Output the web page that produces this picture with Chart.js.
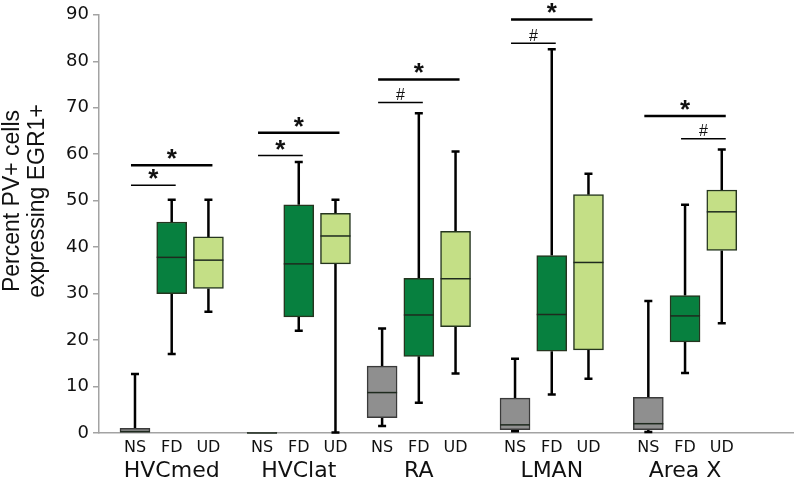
<!DOCTYPE html>
<html>
<head>
<meta charset="utf-8">
<script src="https://cdn.jsdelivr.net/npm/chart.js@4/dist/chart.umd.min.js"></script>
<style>
  html, body { margin: 0; padding: 0; background: #fff; }
  canvas { display: block; }
</style>
</head>
<body>
<canvas id="chart" width="796" height="481"></canvas>
<script>
const GROUPS = ['HVCmed', 'HVClat', 'RA', 'LMAN', 'Area X'];
const CONDITIONS = ['NS', 'FD', 'UD'];

// [min, q1, median, q3, max] for each group, in percent
const NS_BOXES = [
  [0, 0, 0.3, 1.0, 12.7],
  [0, 0, 0, 0.15, 0.15],
  [1.5, 3.3, 8.7, 14.4, 22.5],
  [0.4, 0.7, 1.75, 7.5, 16.0],
  [0.2, 0.7, 2.0, 7.7, 28.4]
];
const FD_BOXES = [
  [17.0, 30.0, 37.8, 45.4, 50.2],
  [22.0, 25.0, 36.4, 49.1, 58.3],
  [6.5, 16.5, 25.4, 33.3, 68.8],
  [8.3, 17.6, 25.5, 38.2, 82.6],
  [12.9, 19.6, 25.2, 29.6, 49.1]
];
const UD_BOXES = [
  [26.1, 31.1, 37.2, 42.2, 50.2],
  [0.1, 36.4, 42.4, 47.3, 50.2],
  [12.8, 22.9, 33.2, 43.4, 60.6],
  [11.7, 17.9, 36.7, 51.3, 55.8],
  [23.6, 39.3, 47.6, 52.3, 61.0]
];

const Y_MIN = 0;
const Y_MAX = 90;
const Y_STEP = 10;

// significance brackets: group, from condition, to condition, height (%), mark
const SIG_GROUP = [0, 0, 1, 1, 2, 2, 3, 3, 4, 4];
const SIG_FROM = [0, 0, 0, 0, 0, 0, 0, 0, 0, 1];
const SIG_TO = [1, 2, 1, 2, 1, 2, 1, 2, 2, 2];
const SIG_LEVEL = [53.3, 57.6, 59.7, 64.6, 71.1, 76.1, 83.9, 89.0, 68.2, 63.3];
const SIG_MARK = ['*', '*', '*', '*', '#', '*', '#', '*', '*', '#'];

// layout: where each group starts along the x axis, in box slots
const GROUP_X = [0, 3.46, 6.73, 10.35, 13.98];
const X_MIN = -0.98;
const X_MAX = 17.92;

const BOX_SETS = [NS_BOXES, FD_BOXES, UD_BOXES];
const COLORS = ['#8f8f8f', '#07803f', '#c4df86'];
const COLOR_AXIS = '#a3a3a3';
const COLOR_TEXT = '#111';
const FONT_SANS = "'DejaVu Sans', sans-serif";
const FONT_ARIAL = "'Liberation Sans', Arial, sans-serif";

const boxX = (g, k) => GROUP_X[g] + k;
const tickPositions = GROUP_X.flatMap((_, g) => CONDITIONS.map((_, k) => boxX(g, k)));

const boxParts = {
  id: 'boxParts',
  beforeDatasetsDraw(chart) {
    const { ctx, scales: { x, y } } = chart;
    ctx.save();
    ctx.strokeStyle = '#000';
    ctx.lineWidth = 2.5;
    const cap = 4;
    BOX_SETS.forEach((boxes, k) => boxes.forEach((b, g) => {
      const px = x.getPixelForValue(boxX(g, k));
      const [lo, q1, , q3, hi] = b;
      [[q3, hi], [q1, lo]].forEach(([from, to]) => {
        const y0 = y.getPixelForValue(from);
        const y1 = y.getPixelForValue(to);
        if (Math.abs(y1 - y0) < 0.5) return;
        ctx.beginPath();
        ctx.moveTo(px, y0);
        ctx.lineTo(px, y1);
        ctx.moveTo(px - cap, y1);
        ctx.lineTo(px + cap, y1);
        ctx.stroke();
      });
    }));
    ctx.restore();
  },
  afterDatasetsDraw(chart) {
    const { ctx, scales: { x, y } } = chart;
    ctx.save();
    ctx.strokeStyle = '#1e2a1e';
    ctx.lineWidth = 1.5;
    BOX_SETS.forEach((boxes, k) => {
      const bars = chart.getDatasetMeta(k).data;
      boxes.forEach((b, g) => {
        const px = x.getPixelForValue(boxX(g, k));
        const half = bars[g].width / 2;
        const py = y.getPixelForValue(b[2]);
        ctx.beginPath();
        ctx.moveTo(px - half, py);
        ctx.lineTo(px + half, py);
        ctx.stroke();
      });
    });
    ctx.restore();
  },
  afterDraw(chart) {
    const { ctx, scales: { x, y } } = chart;
    ctx.save();
    ctx.fillStyle = COLOR_TEXT;
    ctx.strokeStyle = '#000';

    // significance brackets
    SIG_GROUP.forEach((g, i) => {
      const x1 = x.getPixelForValue(boxX(g, SIG_FROM[i])) - 4;
      const x2 = x.getPixelForValue(boxX(g, SIG_TO[i])) + 4;
      const py = y.getPixelForValue(SIG_LEVEL[i]);
      ctx.lineWidth = SIG_TO[i] - SIG_FROM[i] > 1 ? 2.5 : 1.5;
      ctx.beginPath();
      ctx.moveTo(x1, py);
      ctx.lineTo(x2, py);
      ctx.stroke();

      const star = SIG_MARK[i] === '*';
      ctx.font = star ? `bold 26px ${FONT_ARIAL}` : `16px ${FONT_ARIAL}`;
      ctx.textAlign = 'center';
      ctx.textBaseline = 'alphabetic';
      const m = ctx.measureText(SIG_MARK[i]);
      const centre = py - (star ? 11 : 8.5);
      const base = centre + (m.actualBoundingBoxAscent - m.actualBoundingBoxDescent) / 2;
      ctx.fillText(SIG_MARK[i], (x1 + x2) / 2, base);
    });

    // region names under each group
    ctx.font = `22px ${FONT_SANS}`;
    ctx.textAlign = 'center';
    ctx.textBaseline = 'alphabetic';
    GROUPS.forEach((name, g) => {
      ctx.fillText(name, x.getPixelForValue(boxX(g, 1)), 477);
    });

    // y axis title, two lines
    ctx.font = `23px ${FONT_ARIAL}`;
    [['Percent PV+ cells', 19], ['expressing EGR1+', 44]].forEach(([text, bx]) => {
      ctx.save();
      ctx.translate(bx, 201);
      ctx.rotate(-Math.PI / 2);
      ctx.fillText(text, 0, 0);
      ctx.restore();
    });
    ctx.restore();
  }
};

const datasets = BOX_SETS.map((boxes, k) => ({
  label: CONDITIONS[k],
  data: boxes.map((b, g) => ({ x: boxX(g, k), y: [b[1], b[3]] })),
  backgroundColor: COLORS[k],
  borderColor: k === 0 ? '#3a3a3a' : '#25351f',
  borderWidth: 1.5,
  borderSkipped: false,
  barThickness: 30,
  stack: 'boxes'
}));

new Chart(document.getElementById('chart'), {
  type: 'bar',
  data: { datasets },
  options: {
    responsive: false,
    animation: false,
    layout: { padding: { top: 13, right: 3, left: 0, bottom: 0 } },
    plugins: { legend: { display: false }, tooltip: { enabled: false } },
    scales: {
      x: {
        type: 'linear',
        offset: false,
        min: X_MIN,
        max: X_MAX,
        afterBuildTicks: (scale) => { scale.ticks = tickPositions.map((v) => ({ value: v })); },
        afterFit: (scale) => { scale.height = 48; },
        ticks: {
          autoSkip: false,
          maxRotation: 0,
          padding: 5,
          color: COLOR_TEXT,
          font: { family: FONT_SANS, size: 16 },
          callback: (_v, i) => CONDITIONS[i % CONDITIONS.length]
        },
        grid: { display: false, drawTicks: false, tickLength: 0 },
        border: { display: true, color: COLOR_AXIS, width: 1.5 }
      },
      y: {
        min: Y_MIN,
        max: Y_MAX,
        stacked: false,
        afterFit: (scale) => { scale.width = 99; },
        ticks: {
          stepSize: Y_STEP,
          padding: 4,
          color: COLOR_TEXT,
          font: { family: FONT_SANS, size: 18 }
        },
        grid: { drawOnChartArea: false, drawTicks: true, tickLength: 6, color: COLOR_AXIS, lineWidth: 1.5 },
        border: { display: true, color: COLOR_AXIS, width: 1.5 }
      }
    }
  },
  plugins: [boxParts]
});
</script>
</body>
</html>
